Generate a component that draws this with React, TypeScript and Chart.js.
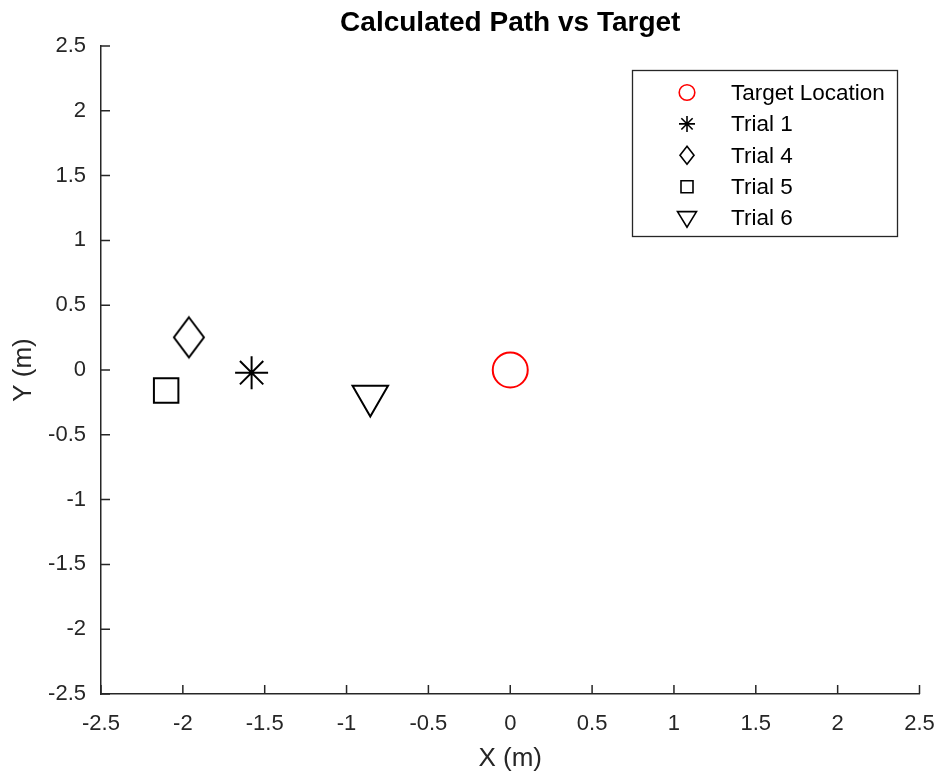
import React, { useEffect, useRef } from 'react';
import { Chart, registerables } from 'chart.js';

Chart.register(...registerables);

// ---- data ----
const seriesLabels = ['Target Location', 'Trial 1', 'Trial 4', 'Trial 5', 'Trial 6'];
const seriesX = [0, -1.58, -1.963, -2.102, -0.855];
const seriesY = [0, -0.021, 0.252, -0.158, -0.2];
const seriesColors = ['#ff0000', '#000000', '#000000', '#000000', '#000000'];
const seriesMarkers = ['circle', 'star', 'diamond', 'square', 'triangleDown'];

const xTickValues = [-2.5, -2, -1.5, -1, -0.5, 0, 0.5, 1, 1.5, 2, 2.5];
const xTickLabels = ['-2.5', '-2', '-1.5', '-1', '-0.5', '0', '0.5', '1', '1.5', '2', '2.5'];
const yTickValues = [-2.5, -2, -1.5, -1, -0.5, 0, 0.5, 1, 1.5, 2, 2.5];
const yTickLabels = ['-2.5', '-2', '-1.5', '-1', '-0.5', '0', '0.5', '1', '1.5', '2', '2.5'];

const titleText = 'Calculated Path vs Target';
const xTitle = 'X (m)';
const yTitle = 'Y (m)';

const AXIS = '#262626';
const FONT = "'Liberation Sans', Arial, Helvetica, sans-serif";

function makeDiamond(w: number, h: number, lw: number, color: string) {
  const c = document.createElement('canvas');
  c.width = Math.ceil(w + lw * 2 + 2);
  c.height = Math.ceil(h + lw * 2 + 2);
  const ctx = c.getContext('2d')!;
  const cx = c.width / 2, cy = c.height / 2;
  ctx.strokeStyle = color;
  ctx.lineWidth = lw;
  ctx.lineJoin = 'miter';
  ctx.beginPath();
  ctx.moveTo(cx, cy - h / 2);
  ctx.lineTo(cx + w / 2, cy);
  ctx.lineTo(cx, cy + h / 2);
  ctx.lineTo(cx - w / 2, cy);
  ctx.closePath();
  ctx.stroke();
  return c;
}

function markerStyle(kind: string, color: string): any {
  switch (kind) {
    case 'circle': return { pointStyle: 'circle', pointRadius: 17.5, pointRotation: 0 };
    case 'star': return { pointStyle: 'star', pointRadius: 16.5, pointRotation: 0 };
    case 'diamond': return { pointStyle: makeDiamond(30, 40, 2, color), pointRadius: 20, pointRotation: 0 };
    case 'square': return { pointStyle: 'rect', pointRadius: 17.3, pointRotation: 0 };
    case 'triangleDown': return { pointStyle: 'triangle', pointRadius: 20.5, pointRotation: 180 };
  }
  return { pointStyle: 'circle', pointRadius: 5 };
}

function drawLegendMarker(ctx: CanvasRenderingContext2D, kind: string, x: number, y: number, color: string) {
  ctx.save();
  ctx.strokeStyle = color;
  ctx.lineWidth = 1.6;
  ctx.beginPath();
  if (kind === 'circle') {
    ctx.arc(x, y, 7.8, 0, Math.PI * 2);
  } else if (kind === 'star') {
    const r = 8, d = 8 * Math.SQRT1_2;
    ctx.moveTo(x - r, y); ctx.lineTo(x + r, y);
    ctx.moveTo(x, y - r); ctx.lineTo(x, y + r);
    ctx.moveTo(x - d, y - d); ctx.lineTo(x + d, y + d);
    ctx.moveTo(x - d, y + d); ctx.lineTo(x + d, y - d);
  } else if (kind === 'diamond') {
    ctx.moveTo(x, y - 9); ctx.lineTo(x + 7, y); ctx.lineTo(x, y + 9); ctx.lineTo(x - 7, y); ctx.closePath();
  } else if (kind === 'square') {
    ctx.rect(x - 6, y - 6, 12, 12);
  } else if (kind === 'triangleDown') {
    ctx.moveTo(x - 9.5, y - 6.5); ctx.lineTo(x + 9.5, y - 6.5); ctx.lineTo(x, y + 9); ctx.closePath();
  }
  ctx.stroke();
  ctx.restore();
}

const axesPlugin = {
  id: 'matlabAxes',
  afterDraw(chart: any) {
    const ctx: CanvasRenderingContext2D = chart.ctx;
    const { left, bottom } = chart.chartArea;
    const xs = chart.scales.x, ys = chart.scales.y;
    ctx.save();
    ctx.strokeStyle = AXIS;
    ctx.lineWidth = 1.5;
    ctx.beginPath();
    for (const v of xTickValues) {
      const px = xs.getPixelForValue(v);
      ctx.moveTo(px, bottom);
      ctx.lineTo(px, bottom - 9);
    }
    for (const v of yTickValues) {
      const py = ys.getPixelForValue(v);
      ctx.moveTo(left, py);
      ctx.lineTo(left + 9, py);
    }
    ctx.stroke();

    // legend
    const bx = 632.5, by = 70.5, bw = 265, bh = 166;
    ctx.fillStyle = '#ffffff';
    ctx.fillRect(bx, by, bw, bh);
    ctx.strokeStyle = AXIS;
    ctx.lineWidth = 1.3;
    ctx.strokeRect(bx, by, bw, bh);
    ctx.font = `22.5px ${FONT}`;
    ctx.textAlign = 'left';
    ctx.textBaseline = 'middle';
    seriesLabels.forEach((lab, i) => {
      const ry = 92.5 + i * 31.4;
      drawLegendMarker(ctx, seriesMarkers[i], 687, ry, seriesColors[i]);
      ctx.fillStyle = '#000000';
      ctx.fillText(lab, 731, ry + 1);
    });
    ctx.restore();
  },
};

export default function App() {
  const ref = useRef<HTMLCanvasElement | null>(null);
  useEffect(() => {
    if (!ref.current) return;
    const datasets = seriesLabels.map((label, i) => ({
      label,
      data: [{ x: seriesX[i], y: seriesY[i] }],
      showLine: false,
      pointBorderColor: seriesColors[i],
      pointBackgroundColor: 'rgba(0,0,0,0)',
      pointBorderWidth: 2,
      pointHoverRadius: 0,
      ...markerStyle(seriesMarkers[i], seriesColors[i]),
    }));
    const chart = new Chart(ref.current, {
      type: 'scatter',
      data: { datasets },
      plugins: [axesPlugin],
      options: {
        animation: false,
        responsive: false,
        devicePixelRatio: 1,
        events: [],
        layout: { padding: { left: 0, right: 20, top: 0, bottom: 0 } },
        plugins: {
          legend: { display: false },
          tooltip: { enabled: false },
          title: {
            display: true,
            text: titleText,
            fullSize: false,
            color: '#000000',
            font: { family: FONT, size: 28, weight: 'bold', lineHeight: 1.2 },
            padding: { top: 6, bottom: 6.4 },
          },
        },
        scales: {
          x: {
            type: 'linear',
            min: -2.5,
            max: 2.5,
            afterFit: (s: any) => { s.height = 81; s.paddingLeft = 0; s.paddingRight = 0; },
            afterBuildTicks: (s: any) => { s.ticks = xTickValues.map((v) => ({ value: v })); },
            grid: { display: false, drawTicks: false },
            border: { display: true, color: AXIS, width: 1.5 },
            ticks: {
              color: AXIS,
              padding: 17,
              maxRotation: 0,
              autoSkip: false,
              font: { family: FONT, size: 22 },
              callback: (v: any) => xTickLabels[xTickValues.indexOf(Number(v))] ?? String(v),
            },
            title: {
              display: true,
              text: xTitle,
              color: AXIS,
              font: { family: FONT, size: 26, lineHeight: 1.2 },
              padding: { top: 0, bottom: 1 },
            },
          },
          y: {
            type: 'linear',
            min: -2.5,
            max: 2.5,
            afterFit: (s: any) => { s.width = 101; s.paddingTop = 0; s.paddingBottom = 0; },
            afterBuildTicks: (s: any) => { s.ticks = yTickValues.map((v) => ({ value: v })); },
            grid: { display: false, drawTicks: false },
            border: { display: true, color: AXIS, width: 1.5 },
            ticks: {
              color: AXIS,
              padding: 15,
              autoSkip: false,
              font: { family: FONT, size: 22 },
              callback: (v: any) => yTickLabels[yTickValues.indexOf(Number(v))] ?? String(v),
            },
            title: {
              display: true,
              text: yTitle,
              color: AXIS,
              font: { family: FONT, size: 26, lineHeight: 1.2 },
              padding: { top: 8, bottom: 0 },
            },
          },
        },
      } as any,
    });
    return () => chart.destroy();
  }, []);
  return (
    <div style={{ position: 'fixed', left: 0, top: 0, width: 942, height: 775, background: '#ffffff' }}>
      <canvas ref={ref} width={942} height={775} style={{ display: 'block', width: 942, height: 775 }} />
    </div>
  );
}
